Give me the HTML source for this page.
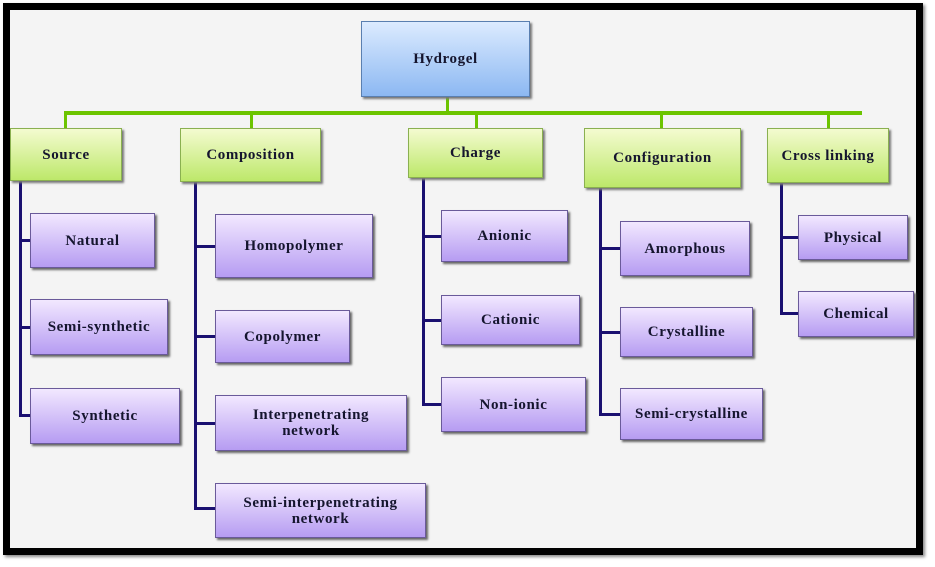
<!DOCTYPE html>
<html><head><meta charset="utf-8"><style>
body{margin:0;width:935px;height:567px;background:#fff;position:relative;overflow:hidden;font-family:"Liberation Serif",serif;}
#frame{position:absolute;left:3px;top:3px;width:906px;height:538px;border:7px solid #000;background:#f4f4f4;box-shadow:2px 2px 3px #888;}
.b{position:absolute;display:flex;align-items:center;justify-content:center;text-align:center;font-weight:bold;font-size:15px;letter-spacing:0.6px;color:#15152e;box-sizing:border-box;line-height:16px;}
.h{background:linear-gradient(#dcebff,#8cb8f2);border:1px solid #5a7fb0;box-shadow:2px 2px 2px #777;}
.g{background:linear-gradient(#f4fbd0,#bde86a);border:1px solid #8ab050;box-shadow:2px 2px 2px #777;}
.p{background:linear-gradient(#f2e8ff,#b69cf2);border:1px solid #6a5a9a;box-shadow:2px 2px 2px #666;}
.l{position:absolute;}
.gl{background:#6cc400;}
.nl{background:#1a1070;}
</style></head><body>
<div id="frame"></div>
<div class="l gl" style="left:446px;top:97px;width:3px;height:17px"></div>
<div class="l gl" style="left:64px;top:111px;width:798px;height:4px"></div>
<div class="l gl" style="left:64px;top:111px;width:3px;height:18px"></div>
<div class="l gl" style="left:250px;top:111px;width:3px;height:18px"></div>
<div class="l gl" style="left:475px;top:111px;width:3px;height:18px"></div>
<div class="l gl" style="left:660px;top:111px;width:3px;height:18px"></div>
<div class="l gl" style="left:827px;top:111px;width:3px;height:18px"></div>
<div class="l nl" style="left:19px;top:181px;width:3px;height:236px"></div>
<div class="l nl" style="left:19px;top:239px;width:12px;height:3px"></div>
<div class="l nl" style="left:19px;top:326px;width:12px;height:3px"></div>
<div class="l nl" style="left:19px;top:414px;width:12px;height:3px"></div>
<div class="l nl" style="left:194px;top:182px;width:3px;height:328px"></div>
<div class="l nl" style="left:194px;top:245px;width:22px;height:3px"></div>
<div class="l nl" style="left:194px;top:335px;width:22px;height:3px"></div>
<div class="l nl" style="left:194px;top:422px;width:22px;height:3px"></div>
<div class="l nl" style="left:194px;top:507px;width:22px;height:3px"></div>
<div class="l nl" style="left:422px;top:178px;width:3px;height:228px"></div>
<div class="l nl" style="left:422px;top:235px;width:20px;height:3px"></div>
<div class="l nl" style="left:422px;top:319px;width:20px;height:3px"></div>
<div class="l nl" style="left:422px;top:403px;width:20px;height:3px"></div>
<div class="l nl" style="left:599px;top:188px;width:3px;height:228px"></div>
<div class="l nl" style="left:599px;top:247px;width:22px;height:3px"></div>
<div class="l nl" style="left:599px;top:331px;width:22px;height:3px"></div>
<div class="l nl" style="left:599px;top:413px;width:22px;height:3px"></div>
<div class="l nl" style="left:780px;top:183px;width:3px;height:132px"></div>
<div class="l nl" style="left:780px;top:236px;width:19px;height:3px"></div>
<div class="l nl" style="left:780px;top:312px;width:19px;height:3px"></div>
<div class="b h" style="left:361px;top:21px;width:169px;height:76px">Hydrogel</div>
<div class="b g" style="left:10px;top:128px;width:112px;height:53px">Source</div>
<div class="b g" style="left:180px;top:128px;width:141px;height:54px">Composition</div>
<div class="b g" style="left:408px;top:128px;width:135px;height:50px">Charge</div>
<div class="b g" style="left:584px;top:128px;width:157px;height:60px">Configuration</div>
<div class="b g" style="left:767px;top:128px;width:122px;height:55px">Cross linking</div>
<div class="b p" style="left:30px;top:213px;width:125px;height:55px">Natural</div>
<div class="b p" style="left:30px;top:299px;width:138px;height:56px">Semi-synthetic</div>
<div class="b p" style="left:30px;top:388px;width:150px;height:56px">Synthetic</div>
<div class="b p" style="left:215px;top:214px;width:158px;height:64px">Homopolymer</div>
<div class="b p" style="left:215px;top:310px;width:135px;height:53px">Copolymer</div>
<div class="b p" style="left:215px;top:395px;width:192px;height:56px">Interpenetrating<br>network</div>
<div class="b p" style="left:215px;top:483px;width:211px;height:55px">Semi-interpenetrating<br>network</div>
<div class="b p" style="left:441px;top:210px;width:127px;height:52px">Anionic</div>
<div class="b p" style="left:441px;top:295px;width:139px;height:50px">Cationic</div>
<div class="b p" style="left:441px;top:377px;width:145px;height:55px">Non-ionic</div>
<div class="b p" style="left:620px;top:221px;width:130px;height:55px">Amorphous</div>
<div class="b p" style="left:620px;top:307px;width:133px;height:50px">Crystalline</div>
<div class="b p" style="left:620px;top:388px;width:143px;height:52px">Semi-crystalline</div>
<div class="b p" style="left:798px;top:215px;width:110px;height:45px">Physical</div>
<div class="b p" style="left:798px;top:291px;width:116px;height:46px">Chemical</div>
</body></html>
